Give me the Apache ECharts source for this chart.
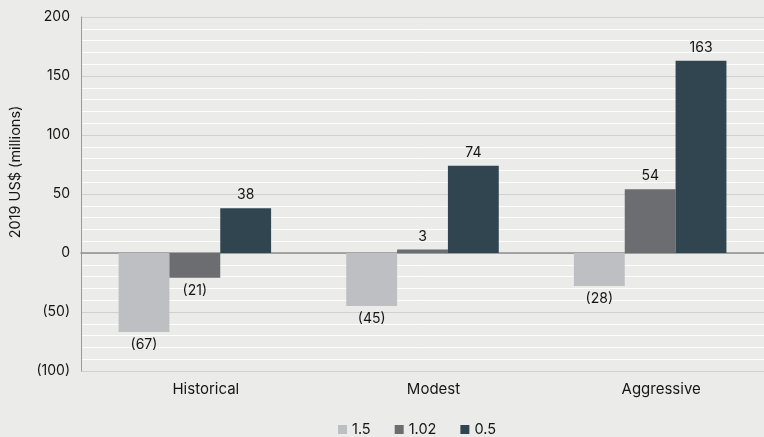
<!DOCTYPE html>
<html>
<head>
<meta charset="utf-8">
<script src="https://cdn.jsdelivr.net/npm/echarts@6/dist/echarts.min.js"></script>
<style>
  html, body { margin: 0; padding: 0; background: #ebebea; }
  #chart { width: 764px; height: 437px; }
</style>
</head>
<body>
<div id="chart"></div>
<script>
// Scenarios along the x axis
const categories = ['Historical', 'Modest', 'Aggressive'];
// Series names (legend entries)
const seriesNames = ['1.5', '1.02', '0.5'];
// Values in 2019 US$ millions, one array per series
const values15 = [-67, -45, -28];
const values102 = [-21, 3, 54];
const values05 = [38, 74, 163];
// Y axis range
const yMin = -100, yMax = 200, yStep = 50;

const colors = ['#bebfc2', '#6c6d71', '#304550'];
const FONT = 'Inter, "Noto Sans", sans-serif';
const TEXT = '#151515';

const fmt = v => v < 0 ? '(' + Math.abs(v) + ')' : String(v);

function makeSeries(name, data, color) {
  return {
    name: name,
    type: 'bar',
    barGap: '0%',
    barCategoryGap: '33%',
    itemStyle: { color: color },
    data: data.map(v => ({
      value: v,
      label: { position: v < 0 ? 'bottom' : 'top' }
    })),
    label: {
      show: true,
      distance: 6,
      color: TEXT,
      fontFamily: FONT,
      fontSize: 14,
      formatter: p => fmt(p.value)
    }
  };
}

const chart = echarts.init(document.getElementById('chart'));
chart.setOption({
  backgroundColor: '#ebebea',
  animation: false,
  grid: { left: 78, right: -4, top: 17, bottom: 66, containLabel: false },
  legend: {
    data: seriesNames,
    top: 417,
    left: 333,
    itemWidth: 9,
    itemHeight: 9,
    itemGap: 24,
    icon: 'rect',
    textStyle: { fontFamily: FONT, fontSize: 14.5, color: TEXT }
  },
  xAxis: {
    type: 'category',
    data: categories,
    axisLine: { show: true, onZero: true, lineStyle: { color: '#8f8f8f', width: 1.5 } },
    axisTick: { show: false },
    axisLabel: {
      fontFamily: FONT,
      fontSize: 15,
      color: TEXT,
      margin: 11,
      padding: [0, 0, 0, 22]
    }
  },
  yAxis: {
    type: 'value',
    min: yMin,
    max: yMax,
    interval: yStep,
    name: '2019 US$ (millions)',
    nameLocation: 'middle',
    nameGap: 58,
    nameTextStyle: {
      fontFamily: FONT,
      fontSize: 14.5,
      color: TEXT,
      padding: [0, 0, 0, 44]
    },
    axisLine: { show: true, lineStyle: { color: '#9a9a9a', width: 1 } },
    axisTick: { show: false },
    axisLabel: {
      fontFamily: FONT,
      fontSize: 14,
      color: TEXT,
      margin: 11,
      formatter: fmt
    },
    splitLine: { show: true, lineStyle: { color: '#d0d0d0', width: 1 } },
    minorTick: { show: true, splitNumber: 5, length: 0, lineStyle: { width: 0 } },
    minorSplitLine: { show: true, lineStyle: { color: '#ffffff', width: 1, opacity: 0.9 } }
  },
  series: [
    makeSeries(seriesNames[0], values15, colors[0]),
    makeSeries(seriesNames[1], values102, colors[1]),
    makeSeries(seriesNames[2], values05, colors[2])
  ]
});
</script>
</body>
</html>
